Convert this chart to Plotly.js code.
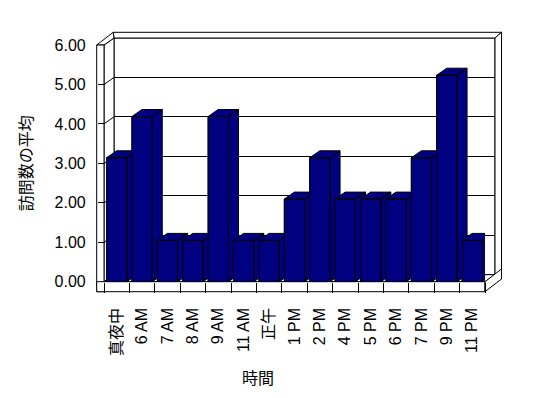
<!DOCTYPE html>
<html><head><meta charset="utf-8">
<script src="https://cdn.plot.ly/plotly-3.0.1.min.js"></script>
<style>html,body{margin:0;padding:0;background:#fff;} #chart{width:548px;height:398px;}</style>
</head><body><div id="chart"></div>
<script>
// ---- data ----
const categories = ['真夜中','6 AM','7 AM','8 AM','9 AM','11 AM','正午','1 PM','2 PM','4 PM','5 PM','6 PM','7 PM','9 PM','11 PM'];
const visitAverages = [3,4,1,1,4,1,1,2,3,2,2,2,3,5,1];
const valueTicks = [0,1,2,3,4,5,6];
const xTitle = '時間';
const yTitle = '訪問数の平均';

// ---- geometry (pixels) ----
const W = 548, H = 398;
const px = x => x / W, py = y => 1 - y / H;
const WALL_L = 96.7, FRONT_L = 104, FRONT_R = 485;
const FLOOR_Y = 281.7, FLOOR_B = 291.7, WALL_TOP = 45;
const D1 = [10, -7], D2 = [16.5, -12.7];
const BACK_L = FRONT_L + D1[0], BACK_R = FRONT_R + D1[0];
const GRID_BOTTOM = FLOOR_Y + D1[1], GRID_TOP = WALL_TOP + D1[1];
const OUT_TOP = WALL_TOP + D2[1], OUT_R = FRONT_R + D2[0];
const BAR_UNIT = 41.3;
const VMAX = valueTicks[valueTicks.length - 1];
const barTopPx = FLOOR_Y - VMAX * BAR_UNIT;

const n = categories.length;
const idx = categories.map((_, i) => i);
const bounds = [];
for (let i = 0; i <= n; i++) bounds.push(i - 0.5);
const catStep = (FRONT_R - FRONT_L) / n;
const h = 0.4;
const ddx = D1[0] / catStep;
const ddy = -D1[1] / BAR_UNIT;
const NAVY = '#000080';

const traces = [];
traces.push({type:'scatter', x:[], y:[], xaxis:'x', yaxis:'y', hoverinfo:'skip', showlegend:false});
traces.push({type:'bar', x: idx, y: visitAverages, xaxis:'x2', yaxis:'y2', width: 2*h,
  marker:{color:NAVY, line:{color:'#000', width:1}}, hoverinfo:'skip', showlegend:false});
visitAverages.forEach((v, i) => {
  const A=[i-h,0], B=[i+h,0], C=[i+h+ddx,ddy], D=[i+h+ddx,v+ddy], E=[i-h+ddx,v+ddy], F=[i-h,v], G=[i+h,v];
  const pts = [A,B,G,B,C,D,G,D,E,F,G,F,A];
  traces.push({type:'scatter', mode:'lines', xaxis:'x2', yaxis:'y2',
    x: pts.map(p=>p[0]), y: pts.map(p=>p[1]), fill:'toself', fillcolor:NAVY,
    line:{color:'#000', width:1}, hoverinfo:'skip', showlegend:false});
});
traces.push({type:'scatter', x:[], y:[], xaxis:'x2', yaxis:'y3', hoverinfo:'skip', showlegend:false});

// ---- walls / floor (decoration) ----
const P = pts => 'M' + pts.map(p => px(p[0]) + ',' + py(p[1])).join(' L') + ' Z';
const wall = (pts) => ({type:'path', xref:'paper', yref:'paper', path:P(pts), layer:'below',
  fillcolor:'#fff', line:{color:'#000', width:1}});
const shapes = [
  wall([[BACK_L,GRID_TOP],[BACK_R,GRID_TOP],[BACK_R,GRID_BOTTOM],[BACK_L,GRID_BOTTOM]]),
  wall([[WALL_L+D2[0],OUT_TOP],[OUT_R,OUT_TOP],[BACK_R,GRID_TOP],[BACK_L,GRID_TOP]]),
  wall([[BACK_R,GRID_TOP],[OUT_R,OUT_TOP],[OUT_R,FLOOR_B+D2[1]],[BACK_R,GRID_BOTTOM]]),
  wall([[FRONT_L,WALL_TOP],[BACK_L,GRID_TOP],[BACK_L,GRID_BOTTOM],[FRONT_L,FLOOR_Y]]),
  wall([[WALL_L,WALL_TOP],[FRONT_L,WALL_TOP],[BACK_L,GRID_TOP],[WALL_L+D2[0],OUT_TOP]]),
  wall([[WALL_L,WALL_TOP],[FRONT_L,WALL_TOP],[FRONT_L,FLOOR_B],[WALL_L,FLOOR_B]]),
  wall([[FRONT_L,FLOOR_Y],[FRONT_R,FLOOR_Y],[BACK_R,GRID_BOTTOM],[BACK_L,GRID_BOTTOM]]),
  wall([[WALL_L,FLOOR_Y],[FRONT_R,FLOOR_Y],[FRONT_R,FLOOR_B],[WALL_L,FLOOR_B]]),
  wall([[FRONT_R,FLOOR_Y],[OUT_R,FLOOR_Y+D2[1]],[OUT_R,FLOOR_B+D2[1]],[FRONT_R,FLOOR_B]])
];
valueTicks.forEach(v => {
  if (v === 0 || v === VMAX) return;
  const yf = FLOOR_Y - v * (FLOOR_Y - WALL_TOP) / VMAX;
  const yb = GRID_BOTTOM - v * (GRID_BOTTOM - GRID_TOP) / VMAX;
  shapes.push({type:'line', xref:'paper', yref:'paper', layer:'below',
    x0:px(FRONT_L), y0:py(yf), x1:px(BACK_L), y1:py(yb), line:{color:'#000', width:1}});
});

const FONT = 'Liberation Sans, Arial, Noto Sans CJK JP, sans-serif';
const layout = {
  width:W, height:H, margin:{l:0, r:0, t:0, b:0},
  paper_bgcolor:'#fff', plot_bgcolor:'rgba(0,0,0,0)', showlegend:false, hovermode:false,
  font:{family:FONT, size:16, color:'#000'},
  xaxis:{domain:[px(BACK_L), px(BACK_R)], range:[0,1], anchor:'y', showticklabels:false,
    showgrid:false, zeroline:false, showline:false, ticks:''},
  yaxis:{domain:[py(GRID_BOTTOM), py(GRID_TOP)], range:[0,VMAX], anchor:'x', tickvals:valueTicks,
    showgrid:true, gridcolor:'#000', gridwidth:1, showticklabels:false, ticks:'', zeroline:false, showline:false},
  xaxis2:{domain:[px(FRONT_L), px(FRONT_R)], range:[-0.5, n-0.5], anchor:'y2',
    tickmode:'array', tickvals:idx, ticktext:categories, tickangle:-90, ticks:'',
    showgrid:false, zeroline:false, showline:false, tickfont:{size:16}, ticklabelstandoff:22,
    minor:{tickmode:'array', tickvals:bounds, ticks:'outside', ticklen:10, tickcolor:'#000', tickwidth:1, showgrid:false}},
  yaxis2:{domain:[py(FLOOR_Y), py(barTopPx)], range:[0,VMAX], anchor:'x2', visible:false},
  yaxis3:{domain:[py(FLOOR_Y), py(WALL_TOP)], range:[0,VMAX], anchor:'free', position:px(WALL_L),
    tickmode:'array', tickvals:valueTicks, tickformat:'.2f', ticks:'inside', ticklen:7.3, tickcolor:'#000',
    showgrid:false, zeroline:false, showline:false, tickfont:{size:16}, ticklabelstandoff:11,
    title:{text:yTitle, font:{size:16}, standoff:16}},
  shapes: shapes,
  annotations:[{text:xTitle, xref:'paper', yref:'paper', x:px(258), y:py(378), showarrow:false,
    xanchor:'center', yanchor:'middle', font:{size:16}}]
};
Plotly.newPlot('chart', traces, layout, {staticPlot:true, displayModeBar:false});
</script></body></html>
